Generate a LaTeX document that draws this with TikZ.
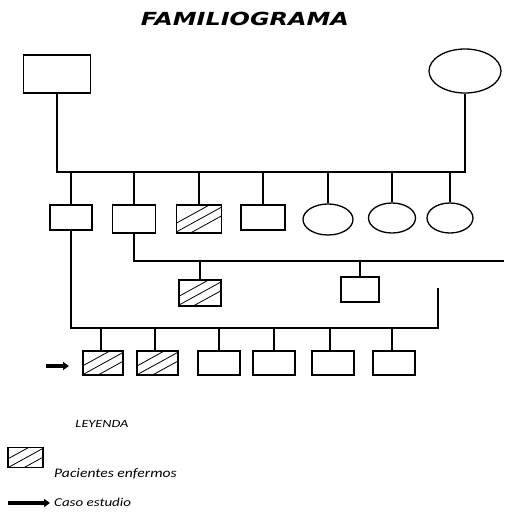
\documentclass[tikz,border=0pt]{standalone}
\usepackage{fontspec}
\setmainfont{Carlito}
\newfontfamily\titlefont{DejaVu Sans}
\usetikzlibrary{shapes.geometric,arrows.meta}
\begin{document}
\begin{tikzpicture}[x=1pt,y=-1pt,
  line/.style={line width=1.3pt},
  person/.style={draw, line width=1.3pt, rectangle, inner sep=0pt},
  female/.style={draw, line width=1.3pt, ellipse, inner sep=0pt},
  hatched/.style={person, path picture={
      \foreach \o in {-16,0,16}{
        \draw[line width=0.8pt] ([shift={(\o-30,17)}]path picture bounding box.center) -- ++(60,-33);}}},
  casearrow/.style={line width=3.2pt, -{Triangle[length=6pt,width=8pt]}},
  legendtext/.style={anchor=west, inner sep=0pt}]
\useasboundingbox (0,0) rectangle (504,512);
% title
\node (title) at (245,18.5) {\titlefont\bfseries\itshape\fontsize{18}{20}\selectfont\scalebox{1.33}[1]{FAMILIOGRAMA}};
% parents
\node[person, minimum width=67pt, minimum height=38pt] (F) at (57,74) {};
\node[female, minimum width=72pt, minimum height=44pt] (M) at (465,71) {};
% generation 2
\node[person, minimum width=42pt, minimum height=25pt] (c1) at (71,217.5) {};
\node[person, minimum width=43pt, minimum height=28pt] (c2) at (134,219) {};
\node[hatched, minimum width=45pt, minimum height=28pt] (c3) at (199,219) {};
\node[person, minimum width=44pt, minimum height=25pt] (c4) at (263,217.5) {};
\node[female, minimum width=50pt, minimum height=31pt] (e1) at (328,219.5) {};
\node[female, minimum width=47pt, minimum height=30pt] (e2) at (392,218) {};
\node[female, minimum width=46pt, minimum height=30pt] (e3) at (450,218) {};
% sibling line
\coordinate (s0) at (57,172);
\coordinate (s1) at (465,172);
\draw[line] (F.south) -- (s0) -- (s1) -- (M.south);
\foreach \n in {c1,c2,c3,c4,e1,e2,e3}{
  \draw[line] (\n.north) -- (\n.north |- s0);
}
% generation 3 (middle)
\node[hatched, minimum width=42pt, minimum height=26pt] (g1) at (200,293) {};
\node[person, minimum width=38pt, minimum height=25pt] (g2) at (360,289.5) {};
\coordinate (j1) at (200,261);
\coordinate (j2) at (504,261);
\draw[line] (c2.south) |- (j1) -- (j2);
\draw[line] (g1.north) -- (j1);
\draw[line] (g2.north) -- (g2.north |- j1);
% generation 3 (bottom)
\node[hatched, minimum width=40pt, minimum height=24pt] (b1) at (103,363) {};
\node[hatched, minimum width=41pt, minimum height=24pt] (b2) at (157.5,363) {};
\node[person, minimum width=42pt, minimum height=24pt] (b3) at (219,363) {};
\node[person, minimum width=42pt, minimum height=24pt] (b4) at (274,363) {};
\node[person, minimum width=42pt, minimum height=24pt] (b5) at (333,363) {};
\node[person, minimum width=42pt, minimum height=24pt] (b6) at (394,363) {};
\coordinate (k1) at (438,328);
\coordinate (k2) at (438,288);
\draw[line] (c1.south) |- (k1) -- (k2);
\foreach \n/\xx in {b1/101,b2/155,b3/219,b4/274,b5/330,b6/392}{
  \draw[line] (\n.north -| \xx,0) -- (\xx,328);
}
\coordinate (a0) at (46,366);
\coordinate (a1) at (69,366);
\draw[casearrow] (a0) -- (a1);
% legend
\node (ley) at (102,424) {\itshape\fontsize{11}{13}\selectfont\scalebox{1.3}[1]{LEYENDA}};
\node[hatched, minimum width=35pt, minimum height=20pt] (lbox) at (25.5,457.5) {};
\node[legendtext] (lt1) at (54,474) {\itshape\fontsize{13}{15}\selectfont\scalebox{1.2}[1]{Pacientes enfermos}};
\coordinate (la0) at (8,503);
\coordinate (la1) at (50,503);
\draw[casearrow] (la0) -- (la1);
\node[legendtext] (lt2) at (54,502) {\itshape\fontsize{12}{14}\selectfont\scalebox{1.25}[1]{Caso estudio}};
\end{tikzpicture}
\end{document}
